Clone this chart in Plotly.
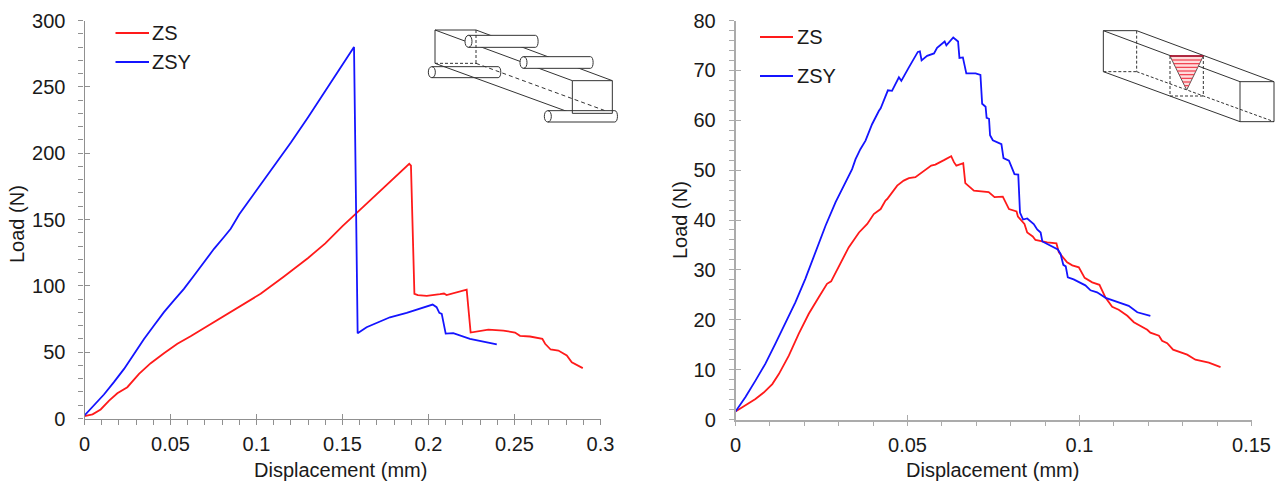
import plotly.graph_objects as go

W, H = 1280, 483

# --- Data (left panel)
left_zs_x = [0,.0047,.0094,.0143,.0191,.0249,.0317,.0385,.0462,.054,.0617,.0695,.081,.0927,.1024,.116,.12,.13,.14,.15,.16,.17,.18,.1888,.1898,.1918,.1938,.199,.2067,.209,.2105,.2222,.2245,.2348,.2435,.2503,.2532,.259,.2662,.2678,.271,.2755,.2804,.2833,.2897]
left_zs_y = [1.8,3.1,6.8,13.5,19,23.6,33.6,41.7,49.2,56.3,62,68.1,76.9,86.5,94,107,111,121,132,145,157,169,181,192,190.6,94,93,92.5,93.7,94.2,93,97.2,64.8,67,66.3,64.8,62.3,61.8,60,56.3,52,51.2,47.5,42.4,38]
left_zsy_x = [0,.0055,.0113,.0171,.023,.0288,.0346,.0404,.0462,.052,.0578,.0637,.0695,.0753,.0811,.085,.09,.1,.11,.12,.13,.14,.15,.1567,.1588,.164,.1776,.1873,.2024,.2047,.2063,.2077,.21,.2144,.2241,.2397]
left_zsy_y = [2.3,9.8,18.1,27.4,37.4,48.7,60,70.1,80.2,89,97.7,107.8,117.9,127.9,136.8,143,154,172,190,208,227,247,266,280,64.3,68.8,76.3,79.6,85.9,83.9,79.6,78.9,64,64.3,60,55.8]

# --- Data (right panel)
right_zs_x = [0,.0029,.0058,.0082,.0107,.0126,.0155,.0184,.0213,.0242,.0266,.0278,.03,.0329,.0359,.0383,.0402,.0422,.0436,.0441,.047,.0489,.0504,.0523,.0569,.0581,.0606,.0627,.0635,.0642,.0662,.0668,.0693,.0736,.0753,.0777,.0795,.0817,.0821,.084,.0848,.0864,.0872,.0906,.0933,.094,.0964,.0979,.0998,.1015,.1037,.1058,.1076,.1095,.1114,.1139,.1158,.1197,.1206,.1231,.124,.1255,.1272,.1313,.1337,.1376,.141]
right_zs_y = [1.6,2.8,4.1,5.4,7.1,9.1,12.8,17.2,21.2,24.5,27.2,27.7,30.5,34.5,37.5,39.2,41.2,42.2,43.9,44.2,46.9,47.9,48.4,48.6,50.9,51.1,52,52.8,51.6,50.9,51.4,47.4,45.9,45.6,44.6,44.7,42.2,41.7,40.7,39.2,37.5,36.7,36,35.5,35.3,33.5,31.5,30.9,30.5,28.4,27.5,27,24.4,22.6,22,20.8,19.5,18,17.4,16.8,15.8,15.3,14,13,12,11.4,10.5]
right_zsy_x = [0,.0029,.0058,.0087,.0116,.0145,.0174,.0203,.0233,.0262,.0291,.032,.0339,.0349,.0363,.0378,.0397,.0417,.0422,.0443,.0455,.0475,.0482,.0504,.053,.0536,.0541,.0557,.0577,.0586,.0608,.0613,.0633,.064,.0647,.0651,.0661,.0671,.0698,.0712,.0717,.0727,.073,.0737,.074,.0748,.0773,.0779,.0795,.0811,.0822,.0827,.0836,.0848,.0867,.0877,.0887,.0892,.0937,.0945,.0953,.096,.0966,.0983,.1017,.1032,.1051,.1076,.111,.1143,.1168,.1206]
right_zsy_y = [1.6,4.5,7.8,11.2,15.2,19.5,23.5,28.2,33.5,38.9,43.6,47.6,50.2,52.2,54.2,55.9,59.2,61.9,62.4,66,65.9,68.6,67.9,70.6,73.7,73.8,72,72.9,73.4,74.5,75.8,75,76.6,76.2,75.8,72.5,72.6,69.4,69.4,69.1,63.3,62.7,60.5,60.3,57,56,55.2,52.4,51.9,49.2,49.1,41.5,40.1,40.3,39.2,38.1,37.5,35.7,34.1,33.2,31,30.7,28.5,28.1,26.9,25.9,25.5,24.4,23.6,22.8,21.5,20.8]

series_names = ["ZS", "ZSY"]
series_colors = ["#ff1a1a", "#1414ff"]
x_title = "Displacement (mm)"
y_title = "Load (N)"

FONT = "Liberation Sans"
TXT = "#1a1a1a"
AX = "#909090"
AX2 = "#ababab"
FS = 20


def px(x):
    return x / W


def py(y):
    return 1 - y / H


fig = go.Figure()
for xs, ys, name, col, xa, ya in [
    (left_zs_x, left_zs_y, series_names[0], series_colors[0], "x", "y"),
    (left_zsy_x, left_zsy_y, series_names[1], series_colors[1], "x", "y"),
    (right_zs_x, right_zs_y, series_names[0], series_colors[0], "x2", "y2"),
    (right_zsy_x, right_zsy_y, series_names[1], series_colors[1], "x2", "y2"),
]:
    fig.add_trace(go.Scatter(x=xs, y=ys, mode="lines", name=name, xaxis=xa, yaxis=ya,
                             line=dict(color=col, width=1.8), showlegend=False))

# Empty traces so that overlay axes draw the inner half of the crossing major ticks
fig.add_trace(go.Scatter(x=[None], y=[None], xaxis="x3", yaxis="y3", showlegend=False))
fig.add_trace(go.Scatter(x=[None], y=[None], xaxis="x4", yaxis="y4", showlegend=False))


def base_axis(domain, rng, dtick, minor, col, lw, standoff):
    return dict(domain=domain, range=rng, tick0=0, dtick=dtick, showgrid=False, zeroline=False,
                showline=True, linecolor=col, linewidth=lw, ticks="outside", ticklen=5, tickwidth=1,
                tickcolor=col, tickfont=dict(family=FONT, size=FS, color=TXT), automargin=False,
                ticklabelstandoff=standoff,
                minor=dict(ticks="outside", ticklen=5, tickwidth=1, tickcolor=col, dtick=minor, tick0=0, showgrid=False),
                title=None)


def inner_axis(domain, rng, dtick, col):
    return dict(domain=domain, range=rng, tick0=0, dtick=dtick, showgrid=False, zeroline=False, automargin=False,
                showline=False, ticks="inside", ticklen=5, tickwidth=1, tickcolor=col, showticklabels=False)


XD1 = [px(84.5), px(600.5)]
YD1 = [py(418.5), py(20.5)]
XD2 = [px(735.5), px(1251.5)]
YD2 = [py(419.5), py(20.5)]

fig.update_layout(
    width=W, height=H, margin=dict(l=0, r=0, t=0, b=0, pad=0, autoexpand=False), paper_bgcolor="white",
    plot_bgcolor="rgba(0,0,0,0)",
    xaxis=base_axis(XD1, [0, .3], .05, .01, AX, 1.2, 2) | dict(anchor="y"),
    yaxis=base_axis(YD1, [0, 300], 50, 10, AX, 1.2, 9) | dict(anchor="x"),
    xaxis2=base_axis(XD2, [0, .15], .05, .01, AX2, 1.5, 2) | dict(anchor="y2"),
    yaxis2=base_axis(YD2, [0, 80], 10, 2, AX2, 1.5, 9) | dict(anchor="x2"),
    xaxis3=inner_axis(XD1, [0, .3], .05, AX) | dict(anchor="y3"),
    yaxis3=inner_axis(YD1, [0, 300], 50, AX) | dict(anchor="x3"),
    xaxis4=inner_axis(XD2, [0, .15], .05, AX2) | dict(anchor="y4"),
    yaxis4=inner_axis(YD2, [0, 80], 10, AX2) | dict(anchor="x4"),
)


def text(x, y, s, anchor="center", angle=0):
    fig.add_annotation(x=px(x), y=py(y), xref="paper", yref="paper", text=s, showarrow=False, textangle=angle,
                       xanchor=anchor, yanchor="middle", font=dict(family=FONT, size=FS, color=TXT))


text(340, 470, x_title)
text(992, 470, x_title)
text(17, 224, y_title, angle=-90)
text(680, 220, y_title, angle=-90)
text(150, 33, series_names[0], "left")
text(150, 62, series_names[1], "left")
text(794.5, 37, series_names[0], "left")
text(794.5, 76, series_names[1], "left")

shapes = []


def seg(x0, y0, x1, y1, color="#333333", width=1, dash="solid"):
    shapes.append(dict(type="line", xref="paper", yref="paper", x0=px(x0), y0=py(y0), x1=px(x1), y1=py(y1),
                       line=dict(color=color, width=width, dash=dash)))


# legend keys
seg(115.5, 33, 149, 33, series_colors[0], 1.8)
seg(115.5, 62, 149, 62, series_colors[1], 1.8)
seg(760, 37, 793, 37, series_colors[0], 1.8)
seg(760, 76, 793, 76, series_colors[1], 1.8)


# inset 1 (crop-relative units /3)
def a(x, y):
    return 400 + x / 3, 10 + y / 3


def s1(p, q, **k):
    seg(*a(*p), *a(*q), **k)


def roller(x0, x1, y0, y1):
    xa, ya = a(x0, y0)
    xb, yb = a(x1, y1)
    w = 3.5

    def P(x, y):
        return f"{px(x):.5f},{py(y):.5f}"
    body = (f"M{P(xa + w, ya)} L{P(xb - w, ya)} C{P(xb, ya)} {P(xb, yb)} {P(xb - w, yb)} L{P(xa + w, yb)} "
            f"C{P(xa - w * .33, yb)} {P(xa - w * .33, ya)} {P(xa + w, ya)} Z")
    shapes.append(dict(type="path", xref="paper", yref="paper", path=body, fillcolor="white",
                       line=dict(color="#333333", width=1)))
    front = (f"M{P(xa + w, ya)} C{P(xa + 2.33 * w, ya)} {P(xa + 2.33 * w, yb)} {P(xa + w, yb)}")
    shapes.append(dict(type="path", xref="paper", yref="paper", path=front, line=dict(color="#333333", width=1)))


s1((228, 60), (637, 212))
s1((105, 60), (517, 212))
roller(195, 417, 76, 112)
roller(360, 582, 140, 175)
roller(85, 305, 170, 203)
s1((105, 60), (228, 60))
s1((105, 60), (105, 160))
s1((228, 60), (228, 160), dash="3px,2px")
s1((105, 160), (228, 160), dash="3px,2px")
s1((228, 160), (637, 310), dash="4px,3px")
s1((105, 160), (517, 310))
roller(433, 655, 302, 336)
s1((517, 212), (637, 212))
s1((517, 212), (517, 310))
s1((637, 212), (637, 310))
s1((517, 310), (637, 310))


# inset 2
def b(x, y):
    return 1090 + x / 3, 10 + y / 3


def s2(p, q, **k):
    seg(*b(*p), *b(*q), **k)


s2((40, 62), (140, 62))
s2((40, 62), (40, 185))
s2((140, 62), (140, 185), dash="3px,2px")
s2((40, 185), (140, 185), dash="3px,2px")
s2((40, 62), (450, 215))
s2((140, 62), (552, 215))
s2((40, 185), (450, 335))
s2((140, 185), (552, 335), dash="3px,2px")
s2((450, 215), (552, 215))
s2((450, 215), (450, 335))
s2((552, 215), (552, 335))
s2((450, 335), (552, 335))
s2((240, 138), (240, 258), dash="3px,2px")
s2((340, 138), (340, 258), dash="3px,2px")
s2((240, 258), (340, 258), dash="3px,2px")
tx0, ty0 = b(240, 138)
tx1, _ = b(340, 138)
tx2, ty2 = b(290, 240)
shapes.append(dict(type="path", xref="paper", yref="paper",
                   path=f"M{px(tx0):.5f},{py(ty0):.5f} L{px(tx1):.5f},{py(ty0):.5f} L{px(tx2):.5f},{py(ty2):.5f} Z",
                   fillcolor="#ffdcdc", line=dict(color="#555555", width=1)))
for zy in [150, 161, 172, 183, 194, 205, 216, 227]:
    t = (zy - 138) / (240 - 138)
    s2((240 + 50 * t, zy), (340 - 50 * t, zy), color="#f03a4a", width=1.2)
s2((240, 138), (340, 138), color="#b00020", width=1.5)

fig.update_layout(shapes=shapes)
fig.write_html("out.html", config=dict(displayModeBar=False), post_script="document.body.style.margin='0';")
